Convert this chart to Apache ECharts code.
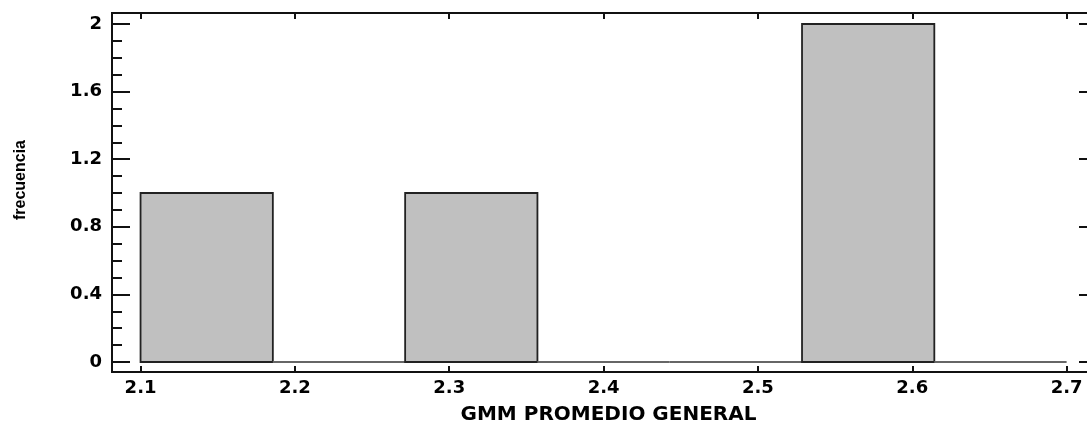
<!DOCTYPE html>
<html>
<head>
<meta charset="utf-8">
<script src="https://cdn.jsdelivr.net/npm/echarts@6/dist/echarts.min.js"></script>
<style>
html,body{margin:0;padding:0;background:#fff;}
#chart{width:1087px;height:424px;}
</style>
</head>
<body>
<div id="chart"></div>
<script>
// Histogram data: bin edges (7 equal bins from 2.1 to 2.7) and counts
const binEdges = [2.1, 2.185714, 2.271429, 2.357143, 2.442857, 2.528571, 2.614286, 2.7];
const binCounts = [1, 0, 1, 0, 0, 2, 0];
const xTicks = [2.1, 2.2, 2.3, 2.4, 2.5, 2.6, 2.7];
const yTicks = [0, 0.4, 0.8, 1.2, 1.6, 2];
const yMinorTicks = [0.1,0.2,0.3,0.5,0.6,0.7,0.9,1.0,1.1,1.3,1.4,1.5,1.7,1.8,1.9];
const xTitle = 'GMM PROMEDIO GENERAL';
const yTitle = 'frecuencia';

const binData = binCounts.map((c, i) => [binEdges[i], binEdges[i + 1], c]);

const FRAME = '#111';
const labelFont = {color: '#000', fontFamily: 'DejaVu Sans', fontWeight: 'bold', fontSize: 18};
const fmt = v => String(+(+v).toFixed(1));

const chart = echarts.init(document.getElementById('chart'), null, {renderer: 'canvas'});
const xRange = {min: 2.0815, max: 2.7158};
const yRange = {min: -0.0592, max: 2.0651};

function yAxisDef(pos, values, len, label) {
  return Object.assign({
    type: 'value', position: pos, gridIndex: 0,
    axisLine: {show: true, onZero: false, lineStyle: {color: FRAME, width: 2}},
    axisTick: {show: true, inside: true, length: len, customValues: values, lineStyle: {color: FRAME, width: 2}},
    axisLabel: label ? Object.assign({show: true, customValues: values, margin: 10, formatter: fmt}, labelFont) : {show: false},
    splitLine: {show: false}
  }, yRange);
}

chart.setOption({
  animation: false,
  backgroundColor: '#fff',
  grid: {left: 112, top: 13, width: 979, height: 359, containLabel: false, outerBoundsMode: 'none'},
  xAxis: [
    Object.assign({
      type: 'value', position: 'bottom',
      axisLine: {show: true, onZero: false, lineStyle: {color: FRAME, width: 2}},
      axisTick: {show: true, inside: true, length: 6, customValues: xTicks, lineStyle: {color: FRAME, width: 2}},
      axisLabel: Object.assign({show: true, customValues: xTicks, margin: 7, formatter: fmt}, labelFont),
      splitLine: {show: false},
      name: xTitle, nameLocation: 'middle', nameGap: 33,
      nameTextStyle: {color: '#000', fontFamily: 'DejaVu Sans', fontWeight: 'bold', fontSize: 20, padding: [0, 0, 0, 14]}
    }, xRange),
    Object.assign({
      type: 'value', position: 'top',
      axisLine: {show: true, onZero: false, lineStyle: {color: FRAME, width: 2}},
      axisTick: {show: true, inside: true, length: 6, customValues: xTicks, lineStyle: {color: FRAME, width: 2}},
      axisLabel: {show: false},
      splitLine: {show: false}
    }, xRange)
  ],
  yAxis: [
    yAxisDef('left', yTicks, 18, true),
    yAxisDef('left', yMinorTicks, 10, false),
    yAxisDef('right', yTicks, 12, false),
    yAxisDef('right', yMinorTicks, 4, false)
  ],
  graphic: [{
    type: 'text', x: 21, y: 180, rotation: Math.PI / 2,
    style: {text: yTitle, fill: '#000', font: 'bold 16px "Liberation Sans"', textAlign: 'center', textVerticalAlign: 'middle'}
  }],
  series: [{
    type: 'custom',
    xAxisIndex: 0, yAxisIndex: 0,
    data: binData,
    encode: {x: [0, 1], y: 2},
    renderItem: function (params, api) {
      const lo = api.value(0), hi = api.value(1), c = api.value(2);
      const p0 = api.coord([lo, 0]);
      const p1 = api.coord([hi, c]);
      if (c === 0) {
        return {type: 'line', shape: {x1: p0[0], y1: p0[1], x2: p1[0], y2: p0[1]},
          style: {stroke: '#666', lineWidth: 2}};
      }
      return {type: 'rect',
        shape: {x: p0[0], y: p1[1], width: p1[0] - p0[0], height: p0[1] - p1[1]},
        style: {fill: '#c0c0c0', stroke: '#222', lineWidth: 1.8}};
    }
  }]
});
</script>
</body>
</html>
